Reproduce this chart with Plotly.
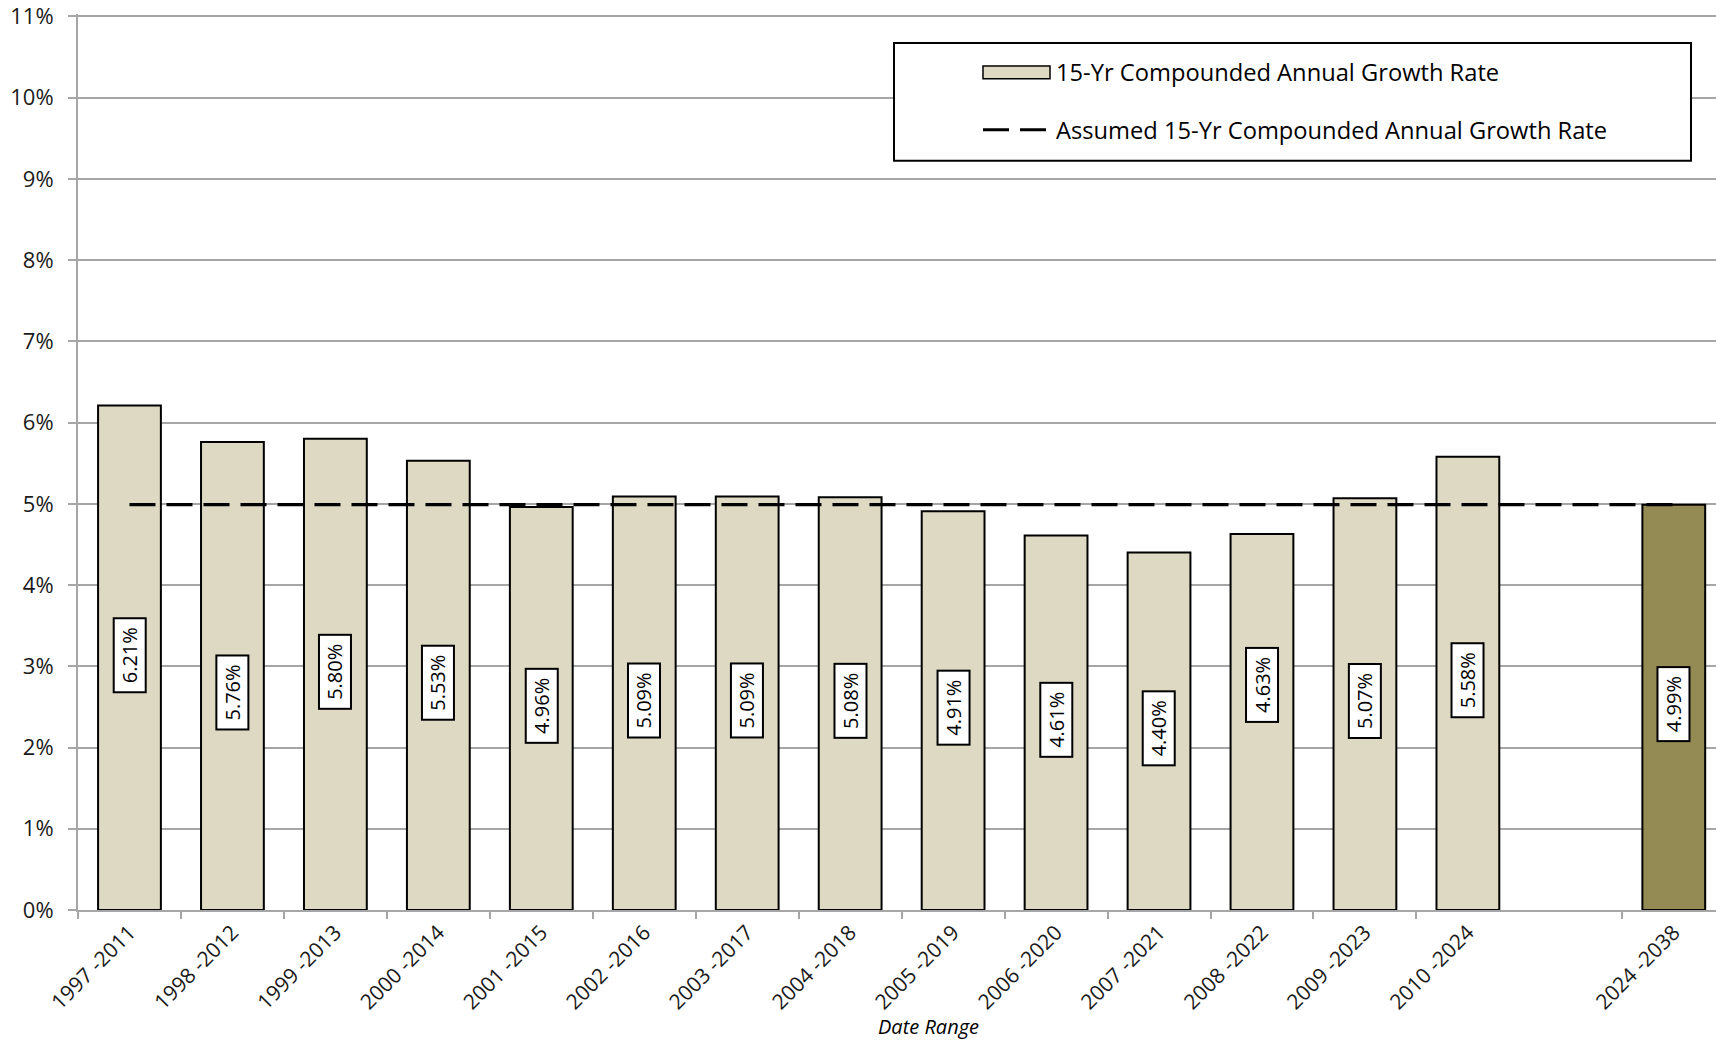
import plotly.graph_objects as go

# 15-year rolling windows; the blank slot separates history from the projection
periods = ["1997 -2011", "1998 -2012", "1999 -2013", "2000 -2014", "2001 -2015",
           "2002 -2016", "2003 -2017", "2004 -2018", "2005 -2019", "2006 -2020",
           "2007 -2021", "2008 -2022", "2009 -2023", "2010 -2024", " ", "2024 -2038"]
cagr = [6.21, 5.76, 5.80, 5.53, 4.96, 5.09, 5.09, 5.08, 4.91, 4.61,
        4.40, 4.63, 5.07, 5.58, None, 4.99]
assumed_rate = 4.99
y_ticks = list(range(0, 12))
y_tick_text = [f"{t}%" for t in y_ticks]

HIST_FILL = "#DDD9C3"
PROJ_FILL = "#948A54"
GRID = "#A6A6A6"
FONT = "Open Sans, Liberation Sans, Arial, sans-serif"

W, H = 1716, 1042
ML, MT, MB = 78, 12, 132
PW, PH = W - ML, H - MT - MB


def px_x(x):
    return (x - ML) / PW


def px_y(y):
    return 1 - (y - MT) / PH


fills = [PROJ_FILL if p == periods[-1] else HIST_FILL for p in periods]

fig = go.Figure()
fig.add_trace(go.Bar(
    x=periods, y=cagr, width=0.61,
    marker=dict(color=fills, line=dict(color="black", width=2)),
    name="15-Yr Compounded Annual Growth Rate", showlegend=False,
    hoverinfo="x+y",
))
fig.add_trace(go.Scatter(
    x=[periods[0], periods[-1]], y=[assumed_rate, assumed_rate],
    mode="lines", line=dict(color="black", width=3.2, dash="26px,11px"),
    name="Assumed 15-Yr Compounded Annual Growth Rate", showlegend=False,
))

# value labels sit mid-bar; a couple were nudged to keep them readable
label_nudge = {"1998 -2012": -19, "2008 -2022": 34}
for p, v in zip(periods, cagr):
    if v is None:
        continue
    fig.add_annotation(
        x=p, y=v / 2, text=f"{v:.2f}%", textangle=-90, showarrow=False,
        yshift=3 + label_nudge.get(p, 0),
        font=dict(family=FONT, size=20, color="black"),
        bgcolor="white", bordercolor="black", borderwidth=2, borderpad=3,
        width=66, height=24,
    )

# legend panel
fig.add_shape(type="rect", xref="paper", yref="paper",
              x0=px_x(894), x1=px_x(1691), y0=px_y(159), y1=px_y(41),
              fillcolor="white", line=dict(color="black", width=2), layer="above")
fig.add_shape(type="rect", xref="paper", yref="paper",
              x0=px_x(983), x1=px_x(1050), y0=px_y(77), y1=px_y(64),
              fillcolor=HIST_FILL, line=dict(color="black", width=1.5), layer="above")
fig.add_shape(type="line", xref="paper", yref="paper",
              x0=px_x(983), x1=px_x(1050), y0=px_y(128), y1=px_y(128),
              line=dict(color="black", width=3.2, dash="26px,11px"), layer="above")
for text, ypx in [("15-Yr Compounded Annual Growth Rate", 70),
                  ("Assumed 15-Yr Compounded Annual Growth Rate", 128)]:
    fig.add_annotation(xref="paper", yref="paper", x=px_x(1054), y=px_y(ypx),
                       xanchor="left", yanchor="middle", showarrow=False, text=text,
                       font=dict(family=FONT, size=23.7, color="black"))

# axis title
fig.add_annotation(xref="paper", yref="paper", x=px_x(928), y=px_y(1011),
                   xanchor="center", yanchor="top", showarrow=False, text="<i>Date Range</i>",
                   font=dict(family=FONT, size=20, color="black"))

fig.update_layout(
    width=W, height=H,
    margin=dict(l=ML, r=0, t=MT, b=MB),
    plot_bgcolor="white", paper_bgcolor="white",
    font=dict(family=FONT, color="#1a1a1a"),
    showlegend=False, bargap=0.39,
)
fig.update_xaxes(
    type="category", categoryorder="array", categoryarray=periods,
    range=[-0.5, 15.41], tickson="boundaries",
    ticks="outside", ticklen=7, tickwidth=2, tickcolor=GRID,
    tickangle=-45, tickfont=dict(family=FONT, size=21, color="#1a1a1a"),
    showline=True, linecolor=GRID, linewidth=2, showgrid=False,
    tickvals=[p for p in periods if p.strip()],
)
fig.update_yaxes(
    range=[0, 11.03], tickvals=y_ticks, ticktext=y_tick_text,
    showgrid=True, gridcolor=GRID, gridwidth=2, zeroline=False,
    showline=True, linecolor=GRID, linewidth=2,
    ticks="outside", ticklen=8, tickwidth=2, tickcolor=GRID,
    ticklabelstandoff=10, ticklabeloverflow="allow",
    tickfont=dict(family=FONT, size=22, color="#1a1a1a"),
)

fig.write_html("out.html")
